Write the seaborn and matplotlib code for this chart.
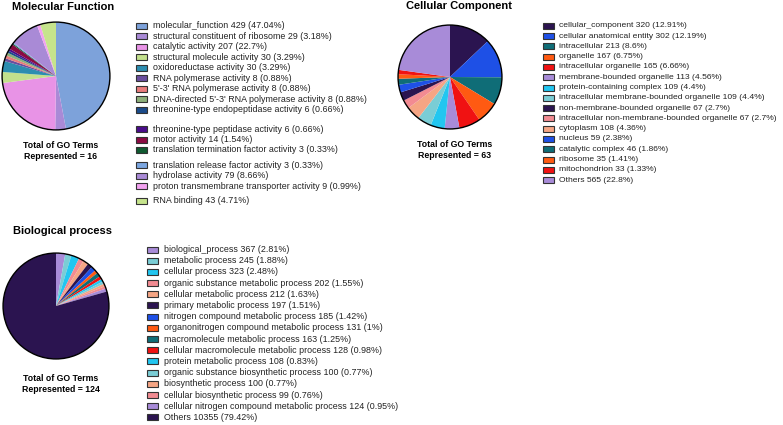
import matplotlib
matplotlib.use("Agg")
import matplotlib.pyplot as plt
from matplotlib.patches import Rectangle
import seaborn as sns

# --- data ---
mf_labels = ["molecular_function", "structural constituent of ribosome", "catalytic activity",
             "structural molecule activity", "oxidoreductase activity", "RNA polymerase activity",
             "5'-3' RNA polymerase activity", "DNA-directed 5'-3' RNA polymerase activity",
             "threonine-type endopeptidase activity", "threonine-type peptidase activity",
             "motor activity", "translation termination factor activity",
             "translation release factor activity", "hydrolase activity",
             "proton transmembrane transporter activity", "RNA binding"]
mf_counts = [429, 29, 207, 30, 30, 8, 8, 8, 6, 6, 14, 3, 3, 79, 9, 43]
mf_pct = ["47.04%", "3.18%", "22.7%", "3.29%", "3.29%", "0.88%", "0.88%", "0.88%", "0.66%",
          "0.66%", "1.54%", "0.33%", "0.33%", "8.66%", "0.99%", "4.71%"]
mf_colors = ["#7DA2DA", "#A98AD6", "#E893E6", "#C2E08C", "#2C8DB0", "#6A4E9E", "#E87C7C",
             "#8DB07A", "#1B4B8A", "#4A0C8A", "#8A0B42", "#105A30", "#7BA6E0", "#A98AD6",
             "#F2A2F0", "#C6E48C"]

cc_labels = ["cellular_component", "cellular anatomical entity", "intracellular", "organelle",
             "intracellular organelle", "membrane-bounded organelle", "protein-containing complex",
             "intracellular membrane-bounded organelle", "non-membrane-bounded organelle",
             "intracellular non-membrane-bounded organelle", "cytoplasm", "nucleus",
             "catalytic complex", "ribosome", "mitochondrion", "Others"]
cc_counts = [320, 302, 213, 167, 165, 113, 109, 109, 67, 67, 108, 59, 46, 35, 33, 565]
cc_pct = ["12.91%", "12.19%", "8.6%", "6.75%", "6.66%", "4.56%", "4.4%", "4.4%", "2.7%", "2.7%",
          "4.36%", "2.38%", "1.86%", "1.41%", "1.33%", "22.8%"]
# slice order in the pie differs slightly from the legend order
cc_pie_order = [0, 1, 2, 3, 4, 5, 6, 7, 10, 9, 8, 11, 12, 13, 14, 15]

bp_labels = ["biological_process", "metabolic process", "cellular process",
             "organic substance metabolic process", "cellular metabolic process",
             "primary metabolic process", "nitrogen compound metabolic process",
             "organonitrogen compound metabolic process", "macromolecule metabolic process",
             "cellular macromolecule metabolic process", "protein metabolic process",
             "organic substance biosynthetic process", "biosynthetic process",
             "cellular biosynthetic process", "cellular nitrogen compound metabolic process",
             "Others"]
bp_counts = [367, 245, 323, 202, 212, 197, 185, 131, 163, 128, 108, 100, 100, 99, 124, 10355]
bp_pct = ["2.81%", "1.88%", "2.48%", "1.55%", "1.63%", "1.51%", "1.42%", "1%", "1.25%", "0.98%",
          "0.83%", "0.77%", "0.77%", "0.76%", "0.95%", "79.42%"]

navy, blue, teal, orange, red = "#2B1450", "#1E50E6", "#0F6D77", "#FF5A12", "#F01212"
lav, cyan, lteal, salmon, peach = "#A88BD8", "#22C6F0", "#7ACDD5", "#F28B92", "#F5A584"
cc_colors = [navy, blue, teal, orange, red, lav, cyan, lteal, navy, salmon, peach,
             blue, teal, orange, red, lav]
bp_colors = [lav, lteal, cyan, salmon, peach, navy, blue, orange, teal, red, cyan, lteal,
             peach, salmon, lav, navy]

sns.set_theme(style="white")
plt.rcParams["font.family"] = ["Liberation Sans", "DejaVu Sans"]

W, H = 783, 425
fig = plt.figure(figsize=(W / 100, H / 100), dpi=100)


def pie_panel(cx, cy, r, counts, colors):
    ax = fig.add_axes([(cx - r) / W, (H - cy - r) / H, 2 * r / W, 2 * r / H])
    ax.pie(counts, colors=colors, startangle=90, counterclock=False,
           wedgeprops=dict(linewidth=0))
    ax.pie([1], colors=["none"], wedgeprops=dict(linewidth=1.0, edgecolor="black"))
    ax.set_xlim(-1.02, 1.02)
    ax.set_ylim(-1.02, 1.02)
    ax.set_aspect("equal")
    ax.axis("off")


pie_panel(56, 76, 55, mf_counts, mf_colors)
pie_panel(450, 77, 53, [cc_counts[i] for i in cc_pie_order],
          [cc_colors[i] for i in cc_pie_order])
pie_panel(56, 306, 54, bp_counts, bp_colors)

# overlay in pixel coordinates for titles and legends
lax = fig.add_axes([0, 0, 1, 1], zorder=-1)
lax.set_xlim(0, W)
lax.set_ylim(H, 0)
lax.axis("off")

title_kw = dict(fontsize=8, fontweight="bold", va="center", ha="left", color="black")
lax.text(12, 7, "Molecular Function", **title_kw)
lax.text(406, 6, "Cellular Component", **title_kw)
lax.text(13, 231, "Biological process", **title_kw)

tot_kw = dict(fontsize=6.3, fontweight="bold", va="center", ha="center", color="black",
              linespacing=1.35)
lax.text(61, 151, "Total of GO Terms\nRepresented = 16", **tot_kw)
lax.text(455, 150, "Total of GO Terms\nRepresented = 63", **tot_kw)
lax.text(61, 384, "Total of GO Terms\nRepresented = 124", **tot_kw)


def legend(x, y0, step, labels, counts, pct, colors, gaps, fs=6.4, tx=17):
    y = y0
    for i, (lab, n, p, c) in enumerate(zip(labels, counts, pct, colors)):
        lax.add_patch(Rectangle((x, y - 3), 11, 6, facecolor=c, edgecolor="#333333", lw=0.8))
        lax.text(x + tx, y, f"{lab} {n} ({p})", fontsize=fs, va="center", ha="left",
                 color="#222222")
        y += step + gaps.get(i, 0)


legend(136, 25.5, 10.5, mf_labels, mf_counts, mf_pct, mf_colors, {8: 9, 11: 4.5, 14: 4})
legend(543, 25.7, 10.3, cc_labels, cc_counts, cc_pct, cc_colors, {}, fs=6.1, tx=16)
legend(147, 249.5, 11.2, bp_labels, bp_counts, bp_pct, bp_colors, {})

fig.savefig("out.png", dpi=100)
